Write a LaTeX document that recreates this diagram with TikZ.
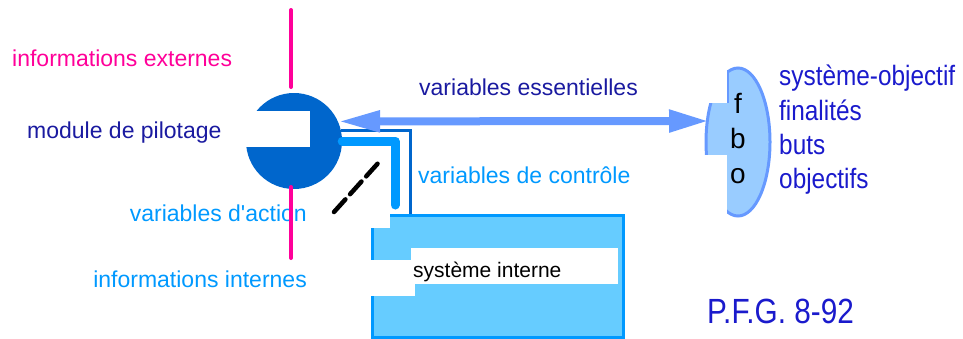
\documentclass[tikz,border=0pt]{standalone}
\usepackage{fontspec}
\setmainfont{Liberation Sans}
\newfontfamily\narrowfont[FakeStretch=0.87]{Liberation Sans}
\newfontfamily\pfgfont[FakeStretch=0.85]{Liberation Sans}
\usetikzlibrary{arrows.meta,shapes.geometric}
\definecolor{magentaC}{HTML}{FF0099}
\definecolor{darkblueC}{HTML}{1A1AA0}
\definecolor{rightblueC}{HTML}{1A1ACC}
\definecolor{lightblueC}{HTML}{0099FF}
\definecolor{pilotC}{HTML}{0066CC}
\definecolor{arrowC}{HTML}{6699FF}
\definecolor{ellfillC}{HTML}{99CCFF}
\definecolor{boxfillC}{HTML}{66CCFF}
\tikzset{
  lbl/.style={inner sep=0pt, font=\fontsize{23}{23}\selectfont},
  rlbl/.style={inner sep=0pt, anchor=base west, text=rightblueC, font=\narrowfont\fontsize{28}{28}\selectfont},
  letter/.style={inner sep=0pt, anchor=base, text=black, font=\fontsize{28}{28}\selectfont},
  infoline/.style={draw=magentaC, line width=4pt, line cap=round},
  cutout/.style={fill=white, draw=none},
}
\begin{document}
\begin{tikzpicture}[x=1pt,y=-1pt]
\useasboundingbox (0,0) rectangle (963,338);

% labels left
\node[lbl, anchor=base west, text=magentaC] (ie) at (12,66) {informations externes};
\node[lbl, anchor=base west, text=darkblueC] (mp) at (27,138) {module de pilotage};
\node[lbl, anchor=base east, text=lightblueC] (va) at (307,221) {variables d\textquotesingle action};
\node[lbl, anchor=base east, text=lightblueC] (ii) at (307,287) {informations internes};

% pilot module
\node[circle, fill=pilotC, minimum size=96pt, inner sep=0pt] (pilot) at (294,141) {};
\fill[white] (238,111) rectangle (310,147);

% magenta information lines
\coordinate (extT) at (291,10);
\coordinate (extB) at (291,87);
\coordinate (intT) at (291,187);
\coordinate (intB) at (291,258);
\draw[infoline] (extT) -- (extB);
\draw[infoline] (intT) -- (intB);

% system box
\node[rectangle, fill=boxfillC, draw=lightblueC, line width=3pt, minimum width=251pt, minimum height=122pt, anchor=north west, inner sep=0pt] (sys) at (370.5,213.5) {};
\fill[cutout] (362,210) rectangle (390,228);
\fill[cutout] (411,248) rectangle (618,284);
\fill[cutout] (362,260) rectangle (415,296);
\node[inner sep=0pt, anchor=base west, text=black, font=\fontsize{21}{21}\selectfont] (systxt) at (413,277) {système interne};

% control lines
\coordinate (ctlEnd) at (395,205);
\coordinate (sysTop) at (410,214);
\draw[draw=pilotC, line width=3pt] (pilot.12) -| (sysTop);
\draw[draw=lightblueC, line width=9pt, line cap=round, line join=round] (pilot.east) -| (ctlEnd);

% dashed line
\coordinate (dA) at (334,212);
\coordinate (dB) at (380,161);
\draw[black, line width=4.5pt, line cap=round, dash pattern=on 17pt off 7pt] (dA) -- (dB);

% objective ellipse
\node[ellipse, fill=ellfillC, draw=arrowC, line width=3pt, minimum width=64pt, minimum height=148pt, inner sep=0pt] (fbo) at (738,142) {};
\fill[cutout] (690,60) rectangle (727,103);
\fill[cutout] (690,155) rectangle (726.5,224);
\draw[arrowC, line width=2pt] (728,70) -- (728,103);
\node[letter] (lf) at (738,113) {f};
\node[letter] (lb) at (738,148) {b};
\node[letter] (lo) at (738,183) {o};

% essential variables arrow
\coordinate (fboin) at (709,121);
\draw[arrowC, line width=8pt, {Triangle[length=42pt,width=20pt]}-{Triangle[length=40pt,width=21pt]}] (pilot.24) -- (fboin);

% mid labels
\node[lbl, anchor=base west, text=darkblueC] (ve) at (419,95) {variables essentielles};
\node[lbl, anchor=base west, text=lightblueC] (vc) at (418,183) {variables de contrôle};

% right labels
\node[rlbl] (so) at (779,85) {système-objectif};
\node[rlbl] (fi) at (779,120) {finalités};
\node[rlbl] (bu) at (779,154) {buts};
\node[rlbl] (ob) at (779,188) {objectifs};

\node[inner sep=0pt, anchor=base west, text=rightblueC, font=\pfgfont\fontsize{35}{35}\selectfont] (pfg) at (707,323) {P.F.G. 8-92};
\end{tikzpicture}
\end{document}
